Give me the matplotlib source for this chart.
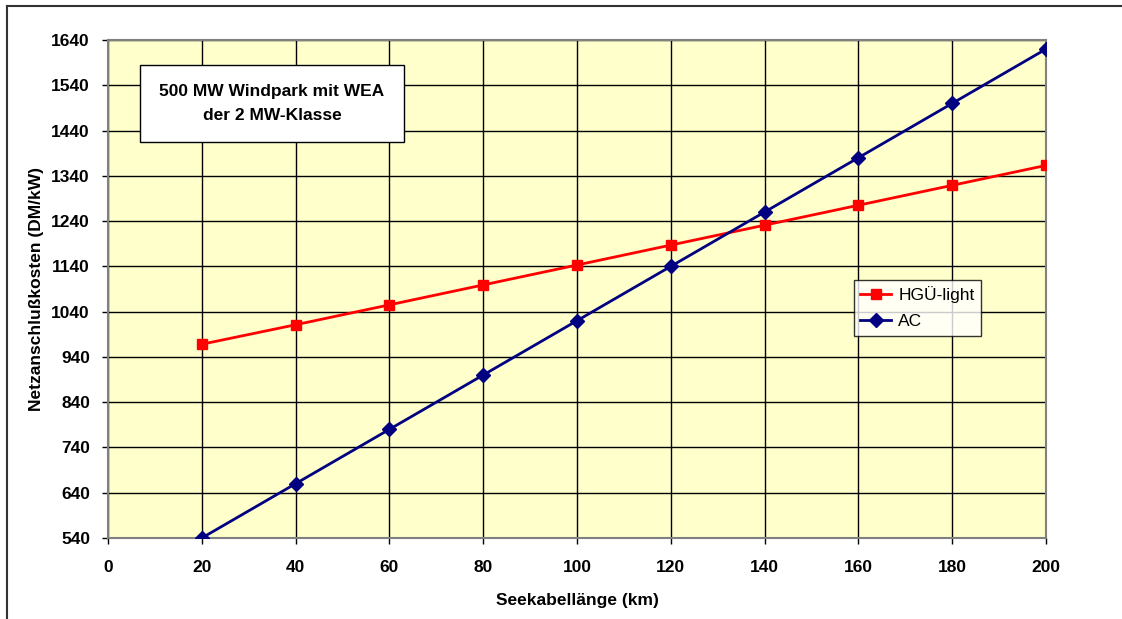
import matplotlib.pyplot as plt
from matplotlib.lines import Line2D

plt.rcParams['font.family'] = ['Liberation Sans', 'DejaVu Sans']

# Seekabellänge (km)
laenge = [20, 40, 60, 80, 100, 120, 140, 160, 180, 200]
# Netzanschlußkosten (DM/kW)
hgue_light = [968, 1011, 1055, 1099, 1143, 1187, 1231, 1275, 1319, 1363]
ac = [540, 660, 780, 900, 1020, 1140, 1260, 1380, 1500, 1620]

x_ticks = list(range(0, 201, 20))
y_ticks = list(range(540, 1641, 100))

fs = 12.5

fig = plt.figure(figsize=(11.22, 6.19), dpi=100)
ax = fig.add_axes([108 / 1122, 81 / 619, 938 / 1122, 498 / 619])
ax.set_facecolor('#FFFFCC')

ax.plot(laenge, hgue_light, color='#FF0000', linewidth=2, marker='s', markersize=7,
        label='HGÜ-light', zorder=3)
ax.plot(laenge, ac, color='#000080', linewidth=2, marker='D', markersize=7,
        label='AC', zorder=3)

ax.set_xlim(0, 200)
ax.set_ylim(540, 1640)
ax.set_xticks(x_ticks)
ax.set_yticks(y_ticks)
ax.grid(True, color='black', linewidth=1)
ax.set_axisbelow(True)
for s in ax.spines.values():
    s.set_color('#808080')
    s.set_linewidth(1.5)
ax.tick_params(direction='out', length=4, width=1, color='black', labelsize=fs)
ax.tick_params(axis='x', pad=11.5)
ax.tick_params(axis='y', pad=9)
for lbl in ax.get_xticklabels() + ax.get_yticklabels():
    lbl.set_fontweight('bold')

ax.set_xlabel('Seekabellänge (km)', fontsize=fs, fontweight='bold', labelpad=13)
ax.set_ylabel('Netzanschlußkosten (DM/kW)', fontsize=fs, fontweight='bold', labelpad=5)

leg = ax.legend(loc='upper left', bbox_to_anchor=((854 - 108) / 938, (538 - 280) / 498),
                borderaxespad=0, fontsize=fs, frameon=True, fancybox=False,
                edgecolor='black', handlelength=1.8, borderpad=0.35, labelspacing=0.65,
                handletextpad=0.4)
leg.get_frame().set_linewidth(1)

ax.text((272 - 108) / 938, (538 - 103.5) / 498, '500 MW Windpark mit WEA\nder 2 MW-Klasse',
        transform=ax.transAxes, ha='center', va='center', fontsize=fs, fontweight='bold',
        linespacing=1.75,
        bbox=dict(boxstyle='square,pad=1.1', facecolor='white', edgecolor='black', linewidth=1),
        zorder=5)

# Rahmen des Diagramms (oben und links sichtbar)
fig.add_artist(Line2D([7 / 1122, 7 / 1122], [0, 1 - 6 / 619], color='#333333', linewidth=1.5))
fig.add_artist(Line2D([7 / 1122, 1], [1 - 6 / 619, 1 - 6 / 619], color='#333333', linewidth=1.5))

fig.savefig('out.png', dpi=100)
